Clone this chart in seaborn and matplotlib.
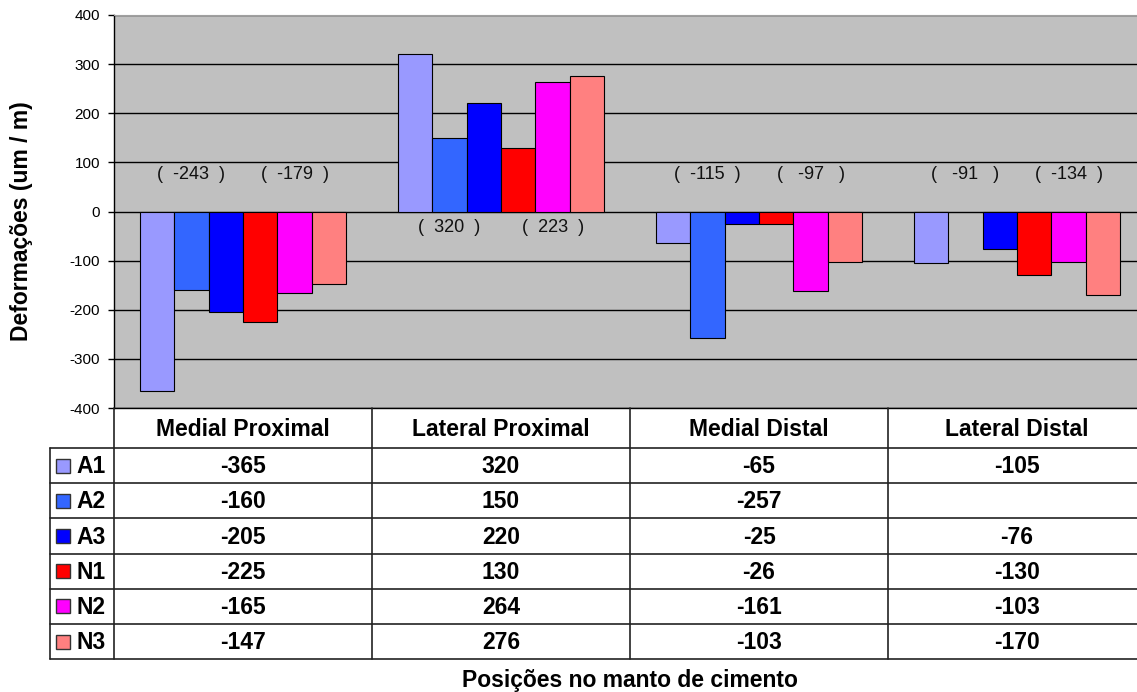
import numpy as np
import pandas as pd
import seaborn as sns
import matplotlib.pyplot as plt
from matplotlib.transforms import blended_transform_factory

# data
categories = ['Medial Proximal', 'Lateral Proximal', 'Medial Distal', 'Lateral Distal']
series = ['A1', 'A2', 'A3', 'N1', 'N2', 'N3']
A1 = [-365, 320, -65, -105]
A2 = [-160, 150, -257, np.nan]
A3 = [-205, 220, -25, -76]
N1 = [-225, 130, -26, -130]
N2 = [-165, 264, -161, -103]
N3 = [-147, 276, -103, -170]
colors = ['#9999FF', '#3366FF', '#0000FF', '#FF0000', '#FF00FF', '#FF8080']

# group labels shown in the plot (A group, N group)
labels_a = ['(  -243  )', '(  320  )', '(  -115  )', '(   -91   )']
labels_n = ['(  -179  )', '(  223  )', '(   -97   )', '(  -134  )']
label_y = [76, -32, 76, 76]

values = [A1, A2, A3, N1, N2, N3]
rows = []
for s, vals in zip(series, values):
    for c, v in zip(categories, vals):
        rows.append({'Posição': c, 'Série': s, 'Deformação': v})
df = pd.DataFrame(rows).dropna()

sns.set_style('white')
plt.rcParams['font.family'] = ['Liberation Sans', 'DejaVu Sans']
plt.rcParams['axes.unicode_minus'] = False
plt.rcParams['text.color'] = 'black'

W, H = 1137, 692
fig = plt.figure(figsize=(W / 100, H / 100), dpi=100)
ax = fig.add_axes([114 / W, 1 - 408 / H, 1032 / W, 393 / H])

sns.barplot(data=df, x='Posição', y='Deformação', hue='Série', order=categories,
            hue_order=series, palette=colors, saturation=1, width=0.8,
            edgecolor='black', linewidth=0.8, legend=False, ax=ax)

ax.set_facecolor('#C0C0C0')
ax.set_ylim(-400, 400)
ax.set_xlim(-0.5, 3.5)
ax.set_yticks(range(-400, 401, 100))
ax.yaxis.grid(True, color='black', linewidth=1)
ax.set_axisbelow(True)
ax.set_xticks([])
ax.set_xlabel('')
ax.set_ylabel('')
ax.tick_params(axis='y', direction='out', length=4, width=1, pad=6, labelsize=11,
               left=True, colors='black')
for side in ['left', 'bottom']:
    ax.spines[side].set_color('black')
    ax.spines[side].set_linewidth(1)
ax.spines['top'].set_color('#A0A0A0')
ax.spines['right'].set_visible(False)

bw = 0.8 / len(series)
for i in range(len(categories)):
    ax.text(i - 0.4 + 1.5 * bw, label_y[i], labels_a[i], ha='center', va='center',
            fontsize=13, color='#111111')
    ax.text(i - 0.4 + 4.5 * bw, label_y[i], labels_n[i], ha='center', va='center',
            fontsize=13, color='#111111')

# data table below the plot
tab = fig.add_axes([0, 0, 1, 1], facecolor='none')
tab.set_xlim(0, W)
tab.set_ylim(H, 0)
tab.axis('off')
tr = blended_transform_factory(ax.transData, tab.transData)

top, head_bot, row_h = 408, 448, 35.2
n = len(series)
bottom = head_bot + n * row_h
lw = 1.2
lc = '#222222'
fs = 16.5

# vertical lines
for k in range(len(categories) + 1):
    tab.plot([k - 0.5, k - 0.5], [top, bottom], color=lc, lw=lw, transform=tr,
             clip_on=False)
tab.plot([50, 50], [head_bot, bottom], color=lc, lw=lw)
# horizontal lines
for r in range(n + 1):
    y = head_bot + r * row_h
    tab.plot([50, W], [y, y], color=lc, lw=lw)

for k, c in enumerate(categories):
    tab.text(k, (top + head_bot) / 2 + 1, c, transform=tr, ha='center', va='center',
             fontsize=fs, fontweight='bold')
for r, (s, vals, col) in enumerate(zip(series, values, colors)):
    yc = head_bot + (r + 0.5) * row_h
    tab.add_patch(plt.Rectangle((56, yc - 7), 14, 14, facecolor=col,
                                edgecolor='#333333', lw=1))
    tab.text(76, yc + 1, s, ha='left', va='center', fontsize=fs, fontweight='bold')
    for k, v in enumerate(vals):
        if not np.isnan(v):
            tab.text(k, yc + 1, f'{v:.0f}', transform=tr, ha='center', va='center',
                     fontsize=fs, fontweight='bold')

fig.text(22 / W, 1 - 221 / H, 'Deformações (um / m)', rotation=90, ha='center',
         va='center', fontsize=fs, fontweight='bold')
fig.text(630 / W, 1 - 680 / H, 'Posições no manto de cimento', ha='center',
         va='center', fontsize=fs, fontweight='bold')

fig.savefig('out.png', dpi=100, facecolor='white')
